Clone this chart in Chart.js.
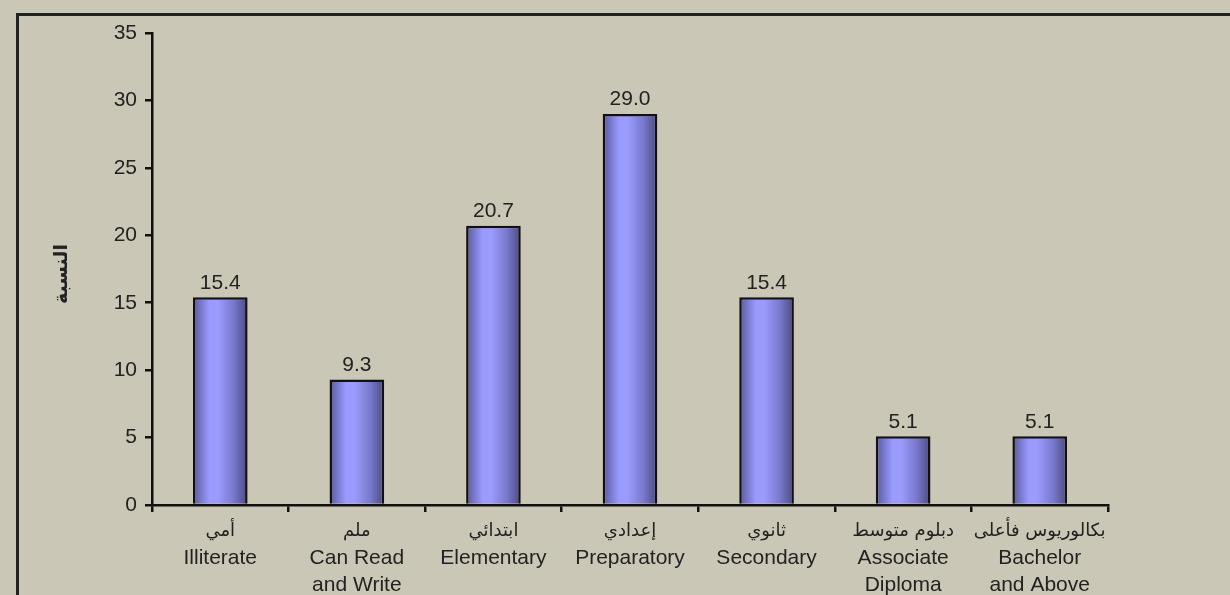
<!DOCTYPE html>
<html>
<head>
<meta charset="utf-8">
<script src="https://cdn.jsdelivr.net/npm/chart.js@4/dist/chart.umd.min.js"></script>
<style>
html,body{margin:0;padding:0;background:#cbc7b6;}
#wrap{width:1230px;height:595px;position:relative;}
</style>
</head>
<body>
<div id="wrap"><canvas id="c" width="1230" height="595"></canvas></div>
<script>
const categoriesAr = ['أمي', 'ملم', 'ابتدائي', 'إعدادي', 'ثانوي', 'دبلوم متوسط', 'بكالوريوس فأعلى'];
const categoriesEn = [['Illiterate'], ['Can Read', 'and Write'], ['Elementary'], ['Preparatory'], ['Secondary'], ['Associate', 'Diploma'], ['Bachelor', 'and Above']];
const values = [15.4, 9.3, 20.7, 29.0, 15.4, 5.1, 5.1];
const yTicks = [0, 5, 10, 15, 20, 25, 30, 35];
const yTitle = 'النسبة';

const labels = categoriesAr.map((a, i) => [a].concat(categoriesEn[i]));
const FONT = "'Liberation Sans', Arial, 'DejaVu Sans', sans-serif";

const framePlugin = {
  id: 'frame',
  beforeDraw(chart) {
    const ctx = chart.ctx;
    ctx.save();
    ctx.fillStyle = '#cbc7b6';
    ctx.fillRect(0, 0, chart.width, chart.height);
    ctx.strokeStyle = '#222';
    ctx.lineWidth = 3;
    ctx.strokeRect(17.5, 14.5, chart.width + 20, chart.height + 20);
    ctx.restore();
  },
  afterDraw(chart) {
    const ctx = chart.ctx;
    const ca = chart.chartArea;
    ctx.save();
    ctx.translate(62, (ca.top + ca.bottom) / 2 + 5);
    ctx.rotate(-Math.PI / 2);
    ctx.fillStyle = '#222';
    ctx.font = "bold 19px 'DejaVu Sans', sans-serif";
    ctx.textAlign = 'center';
    ctx.textBaseline = 'middle';
    ctx.fillText(yTitle, 0, 0);
    ctx.restore();

    // category labels: Arabic line + English lines
    const xs = chart.scales.x;
    ctx.save();
    ctx.fillStyle = '#222';
    ctx.textAlign = 'center';
    ctx.textBaseline = 'middle';
    const y0 = ca.bottom + 26;
    chart.data.labels.forEach((lab, i) => {
      const x = xs.getPixelForValue(i);
      ctx.font = "18px 'DejaVu Sans', sans-serif";
      ctx.fillText(categoriesAr[i], x, y0);
      ctx.font = '21px ' + FONT;
      categoriesEn[i].forEach((t, j) => {
        ctx.fillText(t, x, y0 + 27 * (j + 1));
      });
    });
    ctx.restore();
  }
};

const valueLabels = {
  id: 'valueLabels',
  afterDatasetsDraw(chart) {
    const ctx = chart.ctx;
    const meta = chart.getDatasetMeta(0);
    ctx.save();
    ctx.fillStyle = '#222';
    ctx.font = '21px ' + FONT;
    ctx.textAlign = 'center';
    ctx.textBaseline = 'bottom';
    meta.data.forEach((bar, i) => {
      ctx.fillText(values[i].toFixed(1), bar.x, bar.y - 4);
    });
    ctx.restore();
  }
};

function barGradient(context) {
  const chart = context.chart;
  const xs = chart.scales.x;
  if (!xs || !chart.chartArea) return '#9999ff';
  const cx = xs.getPixelForValue(context.dataIndex);
  const w = (chart.chartArea.right - chart.chartArea.left) / values.length * 0.4;
  const g = chart.ctx.createLinearGradient(cx - w / 2, 0, cx + w / 2, 0);
  g.addColorStop(0, '#58589a');
  g.addColorStop(0.3, '#9a9aff');
  g.addColorStop(0.45, '#9c9cff');
  g.addColorStop(0.75, '#7878cc');
  g.addColorStop(1, '#4a4a80');
  return g;
}

new Chart(document.getElementById('c'), {
  type: 'bar',
  data: {
    labels: labels,
    datasets: [{
      data: values,
      backgroundColor: barGradient,
      borderColor: '#111',
      borderWidth: 2.5,
      borderSkipped: 'bottom',
      barPercentage: 0.4,
      categoryPercentage: 1.0
    }]
  },
  options: {
    responsive: false,
    animation: false,
    devicePixelRatio: 1,
    layout: { padding: { left: 0, right: 122, top: 33, bottom: 0 } },
    plugins: { legend: { display: false }, tooltip: { enabled: false } },
    scales: {
      x: {
        afterFit(scale) { scale.height = 90; },
        border: { display: true, color: '#111', width: 2.5 },
        grid: { display: true, offset: true, drawOnChartArea: false, drawTicks: true, tickLength: 7, color: '#111', lineWidth: 2.5 },
        ticks: { display: false, autoSkip: false, maxRotation: 0 }
      },
      y: {
        min: 0, max: 35,
        afterFit(scale) { scale.width = 152; },
        afterBuildTicks(scale) { scale.ticks = yTicks.map(v => ({ value: v })); },
        border: { display: true, color: '#111', width: 2.5 },
        grid: { display: true, drawOnChartArea: false, drawTicks: true, tickLength: 7, color: '#111', lineWidth: 2.5 },
        ticks: { color: '#222', font: { family: FONT, size: 21 }, padding: 8 }
      }
    }
  },
  plugins: [framePlugin, valueLabels]
});
</script>
</body>
</html>
